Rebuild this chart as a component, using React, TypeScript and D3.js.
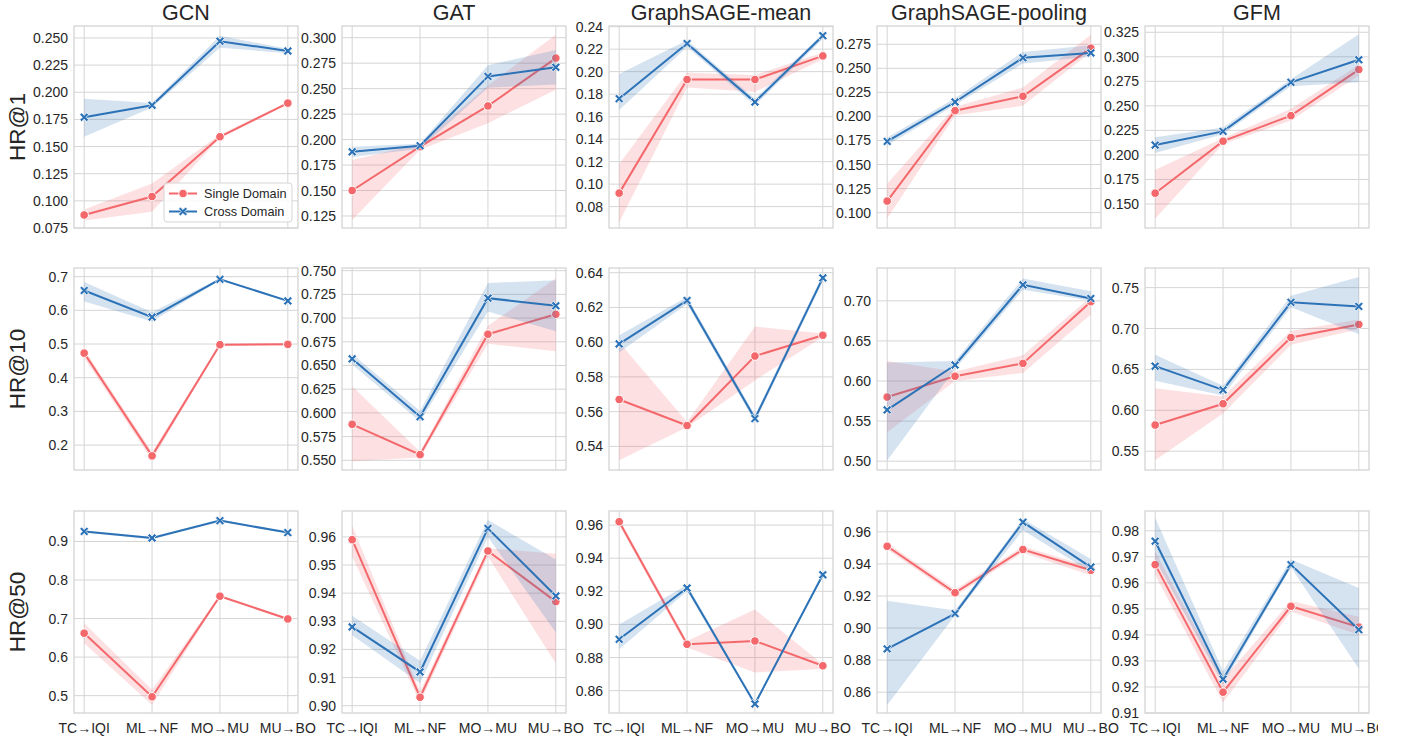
import React from 'react';
import * as d3 from 'd3';

const svgWidth = 1378;
const svgHeight = 736;

const categories = ['TC→IQI', 'ML→NF', 'MO→MU', 'MU→BO'];
const models = ['GCN', 'GAT', 'GraphSAGE-mean', 'GraphSAGE-pooling', 'GFM'];
const metrics = ['HR@1', 'HR@10', 'HR@50'];
const seriesNames = ['Single Domain', 'Cross Domain'];

// HR@1 (rows: GCN, GAT, GraphSAGE-mean, GraphSAGE-pooling, GFM)
const hr1SingleMean = [
  [0.087, 0.104, 0.159, 0.19],
  [0.15, 0.193, 0.233, 0.28],
  [0.092, 0.193, 0.193, 0.214],
  [0.112, 0.206, 0.221, 0.271],
  [0.161, 0.214, 0.24, 0.287],
];
const hr1SingleLo = [
  [0.082, 0.09, 0.158, 0.189],
  [0.121, 0.19, 0.216, 0.249],
  [0.066, 0.186, 0.182, 0.211],
  [0.094, 0.201, 0.211, 0.267],
  [0.135, 0.211, 0.235, 0.281],
];
const hr1SingleHi = [
  [0.092, 0.116, 0.161, 0.191],
  [0.18, 0.196, 0.253, 0.303],
  [0.118, 0.199, 0.197, 0.217],
  [0.13, 0.21, 0.23, 0.285],
  [0.185, 0.217, 0.247, 0.292],
];
const hr1CrossMean = [
  [0.177, 0.188, 0.247, 0.238],
  [0.188, 0.194, 0.262, 0.271],
  [0.176, 0.225, 0.173, 0.232],
  [0.174, 0.215, 0.261, 0.266],
  [0.21, 0.224, 0.274, 0.297],
];
const hr1CrossLo = [
  [0.159, 0.186, 0.241, 0.236],
  [0.183, 0.191, 0.251, 0.254],
  [0.166, 0.222, 0.17, 0.229],
  [0.17, 0.212, 0.255, 0.262],
  [0.202, 0.221, 0.27, 0.274],
];
const hr1CrossHi = [
  [0.194, 0.19, 0.252, 0.24],
  [0.193, 0.196, 0.273, 0.288],
  [0.198, 0.228, 0.176, 0.234],
  [0.178, 0.219, 0.267, 0.274],
  [0.218, 0.228, 0.277, 0.323],
];

// HR@10
const hr10SingleMean = [
  [0.473, 0.168, 0.498, 0.499],
  [0.588, 0.556, 0.683, 0.704],
  [0.567, 0.552, 0.592, 0.604],
  [0.58, 0.606, 0.622, 0.699],
  [0.582, 0.608, 0.689, 0.705],
];
const hr10SingleLo = [
  [0.459, 0.155, 0.495, 0.496],
  [0.549, 0.553, 0.673, 0.665],
  [0.532, 0.551, 0.578, 0.603],
  [0.536, 0.6, 0.61, 0.683],
  [0.539, 0.596, 0.68, 0.699],
];
const hr10SingleHi = [
  [0.484, 0.18, 0.501, 0.502],
  [0.628, 0.559, 0.692, 0.742],
  [0.6, 0.554, 0.609, 0.605],
  [0.625, 0.612, 0.632, 0.705],
  [0.627, 0.617, 0.697, 0.711],
];
const hr10CrossMean = [
  [0.659, 0.58, 0.692, 0.628],
  [0.657, 0.596, 0.721, 0.713],
  [0.599, 0.624, 0.556, 0.637],
  [0.564, 0.62, 0.72, 0.703],
  [0.654, 0.625, 0.732, 0.727],
];
const hr10CrossLo = [
  [0.626, 0.567, 0.689, 0.625],
  [0.651, 0.591, 0.707, 0.686],
  [0.594, 0.622, 0.554, 0.635],
  [0.501, 0.615, 0.714, 0.7],
  [0.636, 0.618, 0.726, 0.693],
];
const hr10CrossHi = [
  [0.684, 0.594, 0.695, 0.631],
  [0.662, 0.602, 0.737, 0.74],
  [0.604, 0.626, 0.558, 0.639],
  [0.623, 0.625, 0.728, 0.712],
  [0.668, 0.63, 0.74, 0.763],
];

// HR@50
const hr50SingleMean = [
  [0.662, 0.497, 0.758, 0.699],
  [0.959, 0.903, 0.955, 0.937],
  [0.962, 0.888, 0.89, 0.875],
  [0.951, 0.922, 0.949, 0.936],
  [0.967, 0.918, 0.951, 0.943],
];
const hr50SingleLo = [
  [0.636, 0.476, 0.755, 0.696],
  [0.953, 0.901, 0.953, 0.915],
  [0.96, 0.886, 0.871, 0.873],
  [0.949, 0.92, 0.947, 0.933],
  [0.963, 0.914, 0.949, 0.94],
];
const hr50SingleHi = [
  [0.688, 0.515, 0.761, 0.702],
  [0.964, 0.905, 0.956, 0.954],
  [0.964, 0.89, 0.909, 0.876],
  [0.953, 0.924, 0.951, 0.938],
  [0.972, 0.923, 0.953, 0.947],
];
const hr50CrossMean = [
  [0.926, 0.909, 0.954, 0.923],
  [0.928, 0.912, 0.963, 0.939],
  [0.891, 0.922, 0.852, 0.93],
  [0.887, 0.909, 0.966, 0.938],
  [0.976, 0.923, 0.967, 0.942],
];
const hr50CrossLo = [
  [0.923, 0.906, 0.951, 0.921],
  [0.925, 0.908, 0.96, 0.926],
  [0.885, 0.92, 0.851, 0.929],
  [0.852, 0.908, 0.961, 0.935],
  [0.969, 0.921, 0.966, 0.927],
];
const hr50CrossHi = [
  [0.929, 0.912, 0.957, 0.925],
  [0.932, 0.916, 0.966, 0.952],
  [0.9, 0.924, 0.853, 0.931],
  [0.917, 0.911, 0.968, 0.943],
  [0.985, 0.926, 0.969, 0.958],
];

// y ranges (axis limits) per panel
const hr1Domains = [[0.075, 0.261], [0.1132, 0.3115], [0.061, 0.2406], [0.084, 0.294], [0.1255, 0.3314]];
const hr10Domains = [[0.126, 0.7257], [0.5398, 0.7528], [0.5264, 0.6427], [0.489, 0.741], [0.527, 0.774]];
const hr50Domains = [[0.455, 0.979], [0.8974, 0.9692], [0.8465, 0.9685], [0.847, 0.973], [0.91, 0.9876]];

// y tick labels per panel
const hr1Ticks = [
  ['0.075', '0.100', '0.125', '0.150', '0.175', '0.200', '0.225', '0.250'],
  ['0.125', '0.150', '0.175', '0.200', '0.225', '0.250', '0.275', '0.300'],
  ['0.08', '0.10', '0.12', '0.14', '0.16', '0.18', '0.20', '0.22', '0.24'],
  ['0.100', '0.125', '0.150', '0.175', '0.200', '0.225', '0.250', '0.275'],
  ['0.150', '0.175', '0.200', '0.225', '0.250', '0.275', '0.300', '0.325'],
];
const hr10Ticks = [
  ['0.2', '0.3', '0.4', '0.5', '0.6', '0.7'],
  ['0.550', '0.575', '0.600', '0.625', '0.650', '0.675', '0.700', '0.725', '0.750'],
  ['0.54', '0.56', '0.58', '0.60', '0.62', '0.64'],
  ['0.50', '0.55', '0.60', '0.65', '0.70'],
  ['0.55', '0.60', '0.65', '0.70', '0.75'],
];
const hr50Ticks = [
  ['0.5', '0.6', '0.7', '0.8', '0.9'],
  ['0.90', '0.91', '0.92', '0.93', '0.94', '0.95', '0.96'],
  ['0.86', '0.88', '0.90', '0.92', '0.94', '0.96'],
  ['0.86', '0.88', '0.90', '0.92', '0.94', '0.96'],
  ['0.91', '0.92', '0.93', '0.94', '0.95', '0.96', '0.97', '0.98'],
];

const singleMean = [hr1SingleMean, hr10SingleMean, hr50SingleMean];
const singleLo = [hr1SingleLo, hr10SingleLo, hr50SingleLo];
const singleHi = [hr1SingleHi, hr10SingleHi, hr50SingleHi];
const crossMean = [hr1CrossMean, hr10CrossMean, hr50CrossMean];
const crossLo = [hr1CrossLo, hr10CrossLo, hr50CrossLo];
const crossHi = [hr1CrossHi, hr10CrossHi, hr50CrossHi];
const yDomains = [hr1Domains, hr10Domains, hr50Domains];
const yTicks = [hr1Ticks, hr10Ticks, hr50Ticks];

const RED = '#f4686c';
const BLUE = '#2c72b7';
const GRID = '#d5d5d5';
const TEXT = '#262626';
const FONT = '"Liberation Sans", Arial, sans-serif';

const panelW = 224;
const panelH = 202;
const colLeft = [74, 342, 609, 877, 1145];
const rowTop = [26, 268, 511];

// filled 'X' marker
const xMarker = (r: number, a: number) => {
  const pts = [
    [a, r], [a, a], [r, a], [r, -a], [a, -a], [a, -r],
    [-a, -r], [-a, -a], [-r, -a], [-r, a], [-a, a], [-a, r],
  ];
  const c = Math.SQRT1_2;
  return 'M' + pts.map(([x, y]) => `${(x * c - y * c).toFixed(2)},${(x * c + y * c).toFixed(2)}`).join('L') + 'Z';
};
const X_PATH = xMarker(5, 1.35);

type Series = { mean: number[]; lo: number[]; hi: number[] };

const Legend: React.FC<{ right: number; bottom: number }> = ({ right, bottom }) => {
  const w = 128;
  const h = 39;
  const lx = right - w;
  const ly = bottom - h;
  const colors = [RED, BLUE];
  return (
    <g>
      <rect x={lx} y={ly} width={w} height={h} rx={3} fill="#fff" fillOpacity={0.85} stroke={GRID} strokeWidth={1} />
      {seriesNames.map((name, i) => {
        const cy = ly + 10.5 + i * 18;
        return (
          <g key={name}>
            <line x1={lx + 5} x2={lx + 33} y1={cy} y2={cy} stroke={colors[i]} strokeWidth={2} />
            {i === 0 ? (
              <circle cx={lx + 19} cy={cy} r={4.3} fill={RED} stroke="#fff" strokeWidth={1} />
            ) : (
              <path d={X_PATH} transform={`translate(${lx + 19},${cy})`} fill={BLUE} stroke="#fff" strokeWidth={0.8} />
            )}
            <text x={lx + 40} y={cy} dominantBaseline="central" fontSize={12.7} fill={TEXT} fontFamily={FONT}>
              {name}
            </text>
          </g>
        );
      })}
    </g>
  );
};

const Panel: React.FC<{ row: number; col: number }> = ({ row, col }) => {
  const left = colLeft[col];
  const top = rowTop[row];
  const x = d3.scalePoint<string>().domain(categories).range([left, left + panelW]).padding(0.15);
  const y = d3.scaleLinear().domain(yDomains[row][col]).range([top + panelH, top]);
  const ticks = yTicks[row][col];

  const series: Series[] = [
    { mean: singleMean[row][col], lo: singleLo[row][col], hi: singleHi[row][col] },
    { mean: crossMean[row][col], lo: crossLo[row][col], hi: crossHi[row][col] },
  ];
  const colors = [RED, BLUE];
  const clipId = `clip-${row}-${col}`;

  return (
    <g>
      <defs>
        <clipPath id={clipId}>
          <rect x={left} y={top} width={panelW} height={panelH} />
        </clipPath>
      </defs>
      {/* grid */}
      {ticks.map((t) => (
        <line key={'h' + t} x1={left} x2={left + panelW} y1={y(+t)} y2={y(+t)} stroke={GRID} strokeWidth={1} />
      ))}
      {categories.map((c) => (
        <line key={'v' + c} x1={x(c)} x2={x(c)} y1={top} y2={top + panelH} stroke={GRID} strokeWidth={1} />
      ))}
      {/* y tick labels */}
      {ticks.map((t) => (
        <text
          key={'t' + t}
          x={left - 6}
          y={y(+t)}
          textAnchor="end"
          dominantBaseline="central"
          fontSize={14}
          fill={TEXT}
          fontFamily={FONT}
        >
          {t}
        </text>
      ))}
      {/* x tick labels on the last row */}
      {row === 2 &&
        categories.map((c) => (
          <text key={'x' + c} x={x(c)} y={top + panelH + 20} textAnchor="middle" fontSize={14} fill={TEXT} fontFamily={FONT}>
            {c}
          </text>
        ))}
      <g clipPath={`url(#${clipId})`}>
        {series.map((s, si) => {
          const band = d3
            .area<number>()
            .x((_, i) => x(categories[i]) as number)
            .y0((_, i) => y(s.lo[i]))
            .y1((_, i) => y(s.hi[i]));
          const line = d3
            .line<number>()
            .x((_, i) => x(categories[i]) as number)
            .y((d) => y(d));
          return (
            <g key={si}>
              <path d={band(s.mean) || ''} fill={colors[si]} fillOpacity={0.2} stroke="none" />
              <path d={line(s.mean) || ''} fill="none" stroke={colors[si]} strokeWidth={2} />
              {s.mean.map((v, i) =>
                si === 0 ? (
                  <circle key={i} cx={x(categories[i])} cy={y(v)} r={4.3} fill={RED} stroke="#fff" strokeWidth={1} />
                ) : (
                  <path
                    key={i}
                    d={X_PATH}
                    transform={`translate(${x(categories[i])},${y(v)})`}
                    fill={BLUE}
                    stroke="#fff"
                    strokeWidth={0.8}
                  />
                )
              )}
            </g>
          );
        })}
      </g>
      {/* frame */}
      <rect x={left} y={top} width={panelW} height={panelH} fill="none" stroke={GRID} strokeWidth={1.3} />
      {row === 0 && (
        <text x={left + panelW / 2} y={top - 6} textAnchor="middle" fontSize={21.5} fill={TEXT} fontFamily={FONT}>
          {models[col]}
        </text>
      )}
      {col === 0 && (
        <text
          transform={`translate(${25},${top + panelH / 2}) rotate(-90)`}
          textAnchor="middle"
          fontSize={22.5}
          fill={TEXT}
          fontFamily={FONT}
        >
          {metrics[row]}
        </text>
      )}
      {row === 0 && col === 0 && <Legend right={left + panelW - 6} bottom={top + panelH - 6} />}
    </g>
  );
};

const App: React.FC = () => {
  return (
    <svg
      width={svgWidth}
      height={svgHeight}
      style={{ position: 'absolute', left: 0, top: 0, background: '#fff', overflow: 'hidden' }}
    >
      {metrics.map((m, r) => models.map((md, c) => <Panel key={m + md} row={r} col={c} />))}
    </svg>
  );
};

export default App;
